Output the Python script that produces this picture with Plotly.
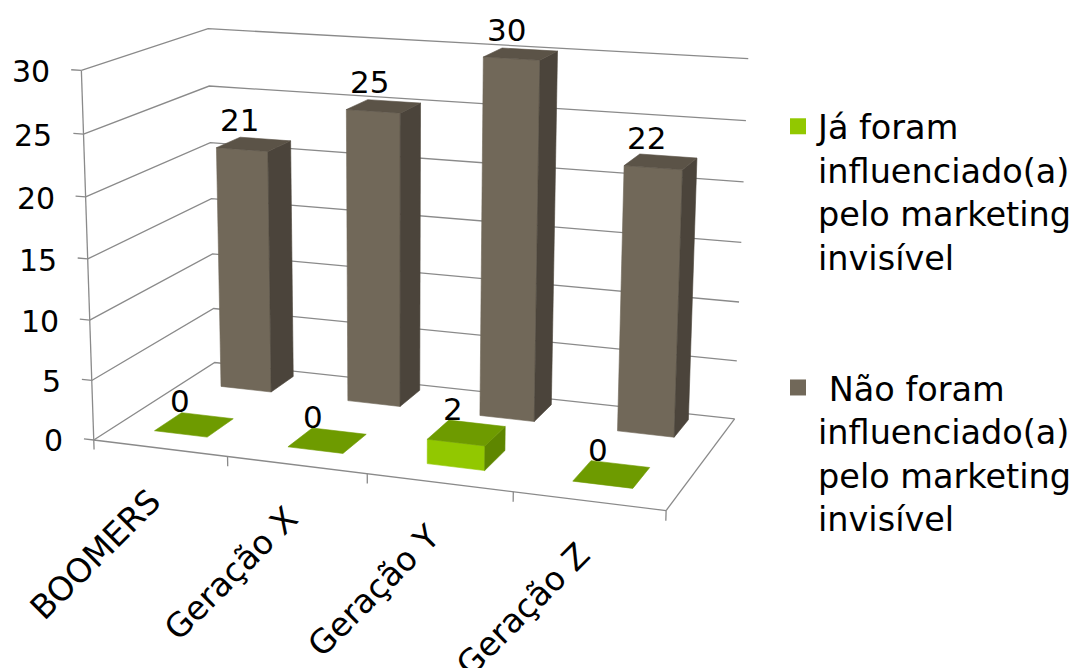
import numpy as np
import plotly.graph_objects as go

# ---- data -------------------------------------------------------------
categories = ["BOOMERS", "Geração X", "Geração Y", "Geração Z"]
influenced = [0, 0, 2, 0]          # Já foram influenciado(a)
not_influenced = [21, 25, 30, 22]  # Não foram influenciado(a)
series_names = [
    "Já foram<br>influenciado(a)<br>pelo marketing<br>invisível",
    "\u00a0Não foram<br>influenciado(a)<br>pelo marketing<br>invisível",
]
value_ticks = [0, 5, 10, 15, 20, 25, 30]

# ---- canvas / 3-D frame ------------------------------------------------
W, H = 1081, 668
FONT = "DejaVu Sans"
VMAX = 30

# Screen placement of the chart box: world (category, value, depth) -> px.
FRAME_ANCHORS = [
    ((0, 0, 0), (95, 438)),
    ((0, 15, 0), (87, 259)),
    ((0, 30, 0), (80, 71)),
    ((1, 0, 0), (228, 455)),
    ((2, 0, 0), (368, 474)),
    ((3, 0, 0), (513, 493)),
    ((4, 0, 0), (666, 512)),
    ((0, 0, 1), (213, 365)),
    ((0, 30, 1), (210, 28)),
    ((4, 0, 1), (735, 417)),
    ((4, 15, 1), (741, 242)),
    ((4, 30, 1), (748, 59)),
]


def fit_camera(anchors):
    """Least-squares perspective (DLT) camera from world/screen pairs."""
    wp = np.array([a[0] for a in anchors], float)
    ip = np.array([a[1] for a in anchors], float)
    ws = np.array([1.0, 4.0 / VMAX, 4.0])
    wn = wp * ws
    c = ip.mean(0)
    s = 500.0
    inn = (ip - c) / s
    rows = []
    for (X, Y, Z), (u, v) in zip(wn, inn):
        rows.append([X, Y, Z, 1, 0, 0, 0, 0, -u * X, -u * Y, -u * Z, -u])
        rows.append([0, 0, 0, 0, X, Y, Z, 1, -v * X, -v * Y, -v * Z, -v])
    _, _, vt = np.linalg.svd(np.array(rows))
    M = vt[-1].reshape(3, 4)

    def project(x, y, z):
        p = M @ np.array([x * ws[0], y * ws[1], z * ws[2], 1.0])
        return c[0] + s * p[0] / p[2], c[1] + s * p[1] / p[2]

    return project


proj = fit_camera(FRAME_ANCHORS)

GRID = "#8a8a8a"
BAR_HALF = 0.2            # bar half-width in category units
SERIES_Z = [(0.165, 0.385), (0.725, 0.935)]   # depth span per series
STYLES = [
    dict(front="#92C800", side="#5E8600", top="#6E9B00", legend="#92C800"),
    dict(front="#716859", side="#4B443B", top="#5B5347", legend="#716859"),
]

fig = go.Figure()


def polyline(points_3d):
    xs, ys = [], []
    for seg in points_3d:
        for p in seg:
            u, v = proj(*p)
            xs.append(u)
            ys.append(v)
        xs.append(None)
        ys.append(None)
    return xs, ys


# walls, gridlines and axis lines
segs = []
for t in value_ticks:
    segs.append([(0, t, 0), (0, t, 1), (4, t, 1)])
segs.append([(0, 0, 0), (0, VMAX, 0)])                 # value axis
segs.append([(0, 0, 0), (4, 0, 0)])                    # category axis
segs.append([(4, 0, 0), (4, 0, 1)])                    # floor right edge
for t in value_ticks:
    segs.append([(-0.075, t, 0), (0, t, 0)])           # value ticks
for i in range(len(categories) + 1):
    segs.append([(i, 0, 0), (i, -0.8, 0)])             # category ticks
gx, gy = polyline(segs)
fig.add_trace(go.Scatter(x=gx, y=gy, mode="lines",
                         line=dict(color=GRID, width=1.3),
                         hoverinfo="skip", showlegend=False))


def add_face(pts, color):
    xs, ys = zip(*[proj(*p) for p in pts])
    fig.add_trace(go.Scatter(x=list(xs) + [xs[0]], y=list(ys) + [ys[0]],
                             mode="lines", fill="toself", fillcolor=color,
                             line=dict(color=color, width=0.6),
                             hoverinfo="skip", showlegend=False))


def add_bar(i, h, z0, z1, st):
    x0, x1 = i + 0.5 - BAR_HALF, i + 0.5 + BAR_HALF
    if h > 0:
        add_face([(x0, 0, z0), (x1, 0, z0), (x1, h, z0), (x0, h, z0)], st["front"])
        add_face([(x1, 0, z0), (x1, 0, z1), (x1, h, z1), (x1, h, z0)], st["side"])
    add_face([(x0, h, z0), (x1, h, z0), (x1, h, z1), (x0, h, z1)], st["top"])


# back row first, then the front row
for s_idx, vals in [(1, not_influenced), (0, influenced)]:
    z0, z1 = SERIES_Z[s_idx]
    for i, h in enumerate(vals):
        add_bar(i, h, z0, z1, STYLES[s_idx])

annotations = []
# data labels
for s_idx, vals in [(1, not_influenced), (0, influenced)]:
    z0, z1 = SERIES_Z[s_idx]
    for i, h in enumerate(vals):
        u, v = proj(i + 0.5, h, (z0 + z1) / 2)
        annotations.append(dict(x=u, y=v, text=str(h), showarrow=False,
                                xanchor="center", yanchor="bottom",
                                xshift=-14, yshift=4,
                                font=dict(family=FONT, size=31, color="#000")))

# value tick labels
for t in value_ticks:
    u, v = proj(-0.075, t, 0)
    annotations.append(dict(x=u - 19, y=v, text=str(t), showarrow=False,
                            xanchor="right", yanchor="middle", yshift=-2,
                            font=dict(family=FONT, size=30, color="#000")))

# category labels
for i, name in enumerate(categories):
    u, v = proj(i + 0.5, 0, 0)
    annotations.append(dict(x=u + 11, y=v + 31, text=name, showarrow=False,
                            textangle=-45, xanchor="right", yanchor="top",
                            font=dict(family=FONT, size=33, color="#000")))

# legend entries
for s_idx in range(2):
    fig.add_trace(go.Scatter(x=[None], y=[None], mode="markers",
                             name=series_names[s_idx],
                             legendgroup=f"s{s_idx}",
                             marker=dict(symbol="square", size=17,
                                         color=STYLES[s_idx]["legend"])))

fig.update_layout(
    width=W, height=H,
    margin=dict(l=0, r=0, t=0, b=0, autoexpand=False),
    paper_bgcolor="white", plot_bgcolor="white",
    font=dict(family=FONT, color="#000"),
    xaxis=dict(range=[0, W], visible=False, fixedrange=True),
    yaxis=dict(range=[H, 0], visible=False, fixedrange=True),
    annotations=annotations,
    showlegend=True,
    legend=dict(x=778 / W, y=1 - 98 / H, xanchor="left", yanchor="top",
                font=dict(family=FONT, size=33.5, color="#000"),
                valign="top", tracegroupgap=84, traceorder="grouped",
                bgcolor="rgba(0,0,0,0)", itemsizing="trace"),
)

fig.write_html("out.html")
